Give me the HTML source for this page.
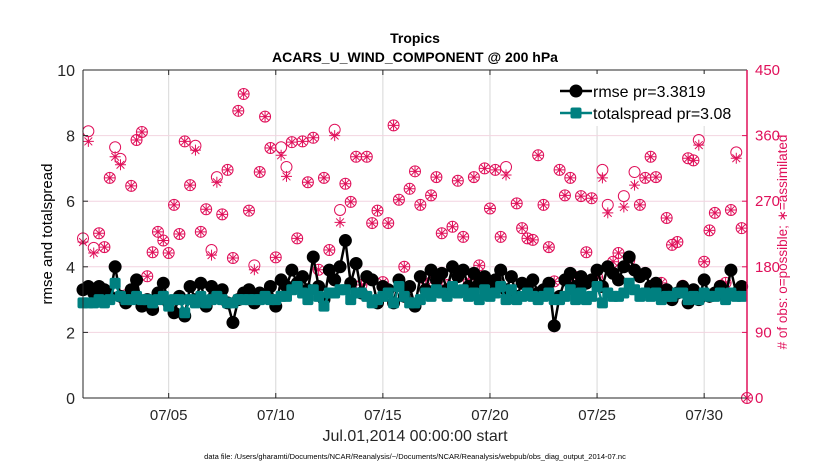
<!DOCTYPE html>
<html><head><meta charset="utf-8"><style>
body{margin:0;background:#fff;}
svg{display:block;font-family:"Liberation Sans",sans-serif;}
</style></head><body>
<svg id="chart" width="830" height="470" xmlns="http://www.w3.org/2000/svg">
<text x="415" y="43" text-anchor="middle" font-size="14" font-weight="bold">Tropics</text>
<text x="415" y="62" text-anchor="middle" font-size="14" font-weight="bold">ACARS_U_WIND_COMPONENT @ 200 hPa</text>
<g id="grid"></g><g id="marks"></g><g id="axes"></g>
<text transform="translate(52,234) rotate(-90)" text-anchor="middle" font-size="15">rmse and totalspread</text>
<text transform="translate(787,242) rotate(-90)" text-anchor="middle" font-size="13.5" fill="#e0105a"># of obs: o=possible; ∗=assimilated</text>
<text x="415" y="441" text-anchor="middle" font-size="16" fill="#262626">Jul.01,2014 00:00:00 start</text>
<text x="415" y="459" text-anchor="middle" font-size="7.5">data file: /Users/gharamti/Documents/NCAR/Reanalysis/~/Documents/NCAR/Reanalysis/webpub/obs_diag_output_2014-07.nc</text>
<g id="legend">
<rect x="555" y="74" width="188" height="52" fill="#fff"/>
<line x1="560" y1="91" x2="592" y2="91" stroke="#000" stroke-width="2.5"/>
<circle cx="576" cy="91" r="6.5" fill="#000"/>
<text x="593" y="97" font-size="16">rmse pr=3.3819</text>
<line x1="560" y1="113" x2="592" y2="113" stroke="#008080" stroke-width="2.5"/>
<rect x="570.5" y="107.5" width="11" height="11" rx="2" fill="#008080"/>
<text x="593" y="119" font-size="16">totalspread pr=3.08</text>
</g>
</svg>
<script>
const xTickLabels = ["07/05","07/10","07/15","07/20","07/25","07/30"];
const xTickDays = [4,9,14,19,24,29];
const yTicks = [0,2,4,6,8,10];
const rTicks = [0,90,180,270,360,450];
const rmse = [3.3,3.4,3.2,3.4,3.3,3.1,4.0,3.1,2.9,3.3,
3.6,2.8,3.0,2.7,3.2,3.5,2.9,2.6,3.1,2.5,
3.4,3.0,3.5,2.8,3.4,3.1,3.3,2.9,2.3,3.0,
3.2,3.3,2.9,3.2,3.1,3.4,2.8,3.6,3.4,3.9,
3.5,3.7,3.3,4.3,3.4,3.0,3.9,3.6,4.0,4.8,
3.5,4.1,3.2,3.7,3.6,2.9,3.4,3.3,2.9,3.6,
3.1,3.4,2.8,3.7,3.3,3.9,3.6,3.8,3.3,4.0,
3.7,3.9,3.4,3.8,3.5,3.7,3.4,3.6,3.9,3.3,
3.7,3.1,3.5,3.4,3.6,3.2,3.3,3.5,2.2,3.1,
3.6,3.8,3.4,3.7,3.5,3.6,3.9,3.4,4.0,3.8,
3.6,4.0,4.3,3.9,3.7,3.8,3.4,3.5,3.1,3.3,
3.0,3.2,3.4,2.9,3.3,3.0,3.6,3.1,3.2,3.4,
3.1,3.9,3.2,3.4,null];
const spread = [2.9,2.9,2.9,3.0,2.9,3.0,3.5,3.1,3.0,3.0,
3.1,3.0,3.0,2.9,3.0,3.1,2.8,3.0,3.0,2.6,
3.0,2.9,3.1,2.9,3.0,3.1,3.0,2.9,2.9,3.0,
3.0,3.0,3.0,3.0,3.1,3.0,3.0,3.1,3.1,3.3,
3.4,3.2,3.0,3.3,3.1,2.8,3.2,3.2,3.3,3.3,
3.0,3.2,3.2,3.1,2.9,3.0,3.1,3.2,2.9,3.4,
3.1,2.9,2.9,3.0,3.2,3.1,3.3,3.2,3.1,3.4,
3.2,3.3,3.1,3.2,3.0,3.3,3.1,3.2,3.4,3.0,
3.3,3.0,3.1,3.2,3.1,3.0,3.1,3.2,3.0,3.0,
3.1,3.3,3.0,3.2,3.0,3.1,3.4,2.9,3.2,3.1,
3.1,3.2,3.5,3.3,3.1,3.2,3.1,3.2,3.0,3.1,
3.1,3.2,3.2,3.0,3.1,3.0,3.2,3.1,3.1,3.2,
3.0,3.2,3.1,3.1,null];
const possible = [219,366,206,226,207,302,344,328,141,291,354,365,167,200,228,216,199,265,225,352,
292,346,228,259,203,303,252,313,192,394,417,257,182,310,386,343,193,344,317,351,
219,352,296,357,176,302,203,368,258,294,269,331,155,331,240,257,159,240,374,272,
180,287,311,265,162,278,303,226,155,235,298,221,162,303,182,315,260,313,221,317,
137,267,233,219,217,333,265,207,160,313,278,302,166,277,200,274,166,313,265,187,
199,277,189,310,265,302,331,303,158,247,210,214,154,329,326,354,187,230,254,154,
158,258,337,233,0];
const assimilated = [214,352,199,226,207,302,331,320,141,291,354,365,167,200,228,216,199,265,225,352,
292,340,228,259,196,296,252,313,192,394,417,257,176,310,386,343,193,333,304,351,
219,352,296,357,176,302,203,360,241,294,269,331,155,331,240,257,159,240,374,272,
180,287,311,265,162,278,303,226,155,235,298,221,162,303,182,315,260,313,221,306,
137,267,233,219,217,333,265,207,160,313,278,302,166,277,200,274,166,302,254,187,
199,262,189,292,265,302,331,303,158,247,210,214,154,329,326,347,187,230,254,154,
158,258,329,233,0];

const NS="http://www.w3.org/2000/svg";
const L=83,R=747,T=70,B=398,DAYS=31,STEP=0.25;
const xs=d=>L+(d/DAYS)*(R-L);
const yl=v=>B-(v/10)*(B-T);
const yr=v=>B-(v/450)*(B-T);
function mk(tag,attrs,parent){const e=document.createElementNS(NS,tag);for(const k in attrs)e.setAttribute(k,attrs[k]);parent.appendChild(e);return e;}
const grid=document.getElementById('grid'),marks=document.getElementById('marks'),axes=document.getElementById('axes');
const PINK="#e0105a";
mk('rect',{x:L,y:T,width:R-L,height:B-T,fill:'#fff'},grid);
xTickDays.forEach((d,i)=>{
  const g=mk('line',{x1:xs(d),x2:xs(d),y1:T,y2:B,stroke:'#d8d8d8','stroke-width':1},grid);
  
  
  mk('line',{x1:xs(d),x2:xs(d),y1:B,y2:B-5,stroke:'#262626'},axes);
  mk('line',{x1:xs(d),x2:xs(d),y1:T,y2:T+5,stroke:'#262626'},axes);
  const lb=mk('text',{x:xs(d),y:B+22,'text-anchor':'middle','font-size':15,fill:'#262626'},axes);
  lb.textContent=xTickLabels[i];
  
  
});
yTicks.forEach(v=>{
  if(v>0&&v<10){const g=mk('line',{x1:L,x2:R,y1:yl(v),y2:yl(v),stroke:'#f2d4e0','stroke-width':1},grid);
  
  }
  mk('line',{x1:L,x2:L+5,y1:yl(v),y2:yl(v),stroke:'#262626'},axes);
  const lb=mk('text',{x:L-8,y:yl(v)+6,'text-anchor':'end','font-size':16,fill:'#262626'},axes);
  lb.textContent=v;
  
  
});
rTicks.forEach(v=>{
  mk('line',{x1:R,x2:R-5,y1:yr(v),y2:yr(v),stroke:PINK},axes);
  const lb=mk('text',{x:R+8,y:yr(v)+5,'font-size':15,fill:PINK},axes);
  lb.textContent=v;
  
  
});
mk('line',{x1:L,x2:R,y1:T,y2:T,stroke:'#262626'},axes);
mk('line',{x1:L,x2:R,y1:B,y2:B,stroke:'#262626'},axes);
mk('line',{x1:L,x2:L,y1:T,y2:B,stroke:'#262626'},axes);
mk('line',{x1:R,x2:R,y1:T,y2:B,stroke:PINK,'stroke-width':1.5},axes);

possible.forEach((v,i)=>{
  const c=mk('circle',{cx:xs(i*STEP),cy:yr(v),r:5.5,fill:'none',stroke:PINK,'stroke-width':1},marks);
  
  
});
assimilated.forEach((v,i)=>{
  const x=xs(i*STEP),y=yr(v),s=5.5,d=3.9;
  const p=mk('path',{d:`M${x-s},${y}H${x+s}M${x},${y-s}V${y+s}M${x-d},${y-d}L${x+d},${y+d}M${x-d},${y+d}L${x+d},${y-d}`,stroke:PINK,'stroke-width':1,fill:'none'},marks);
  
  
});
function linePath(arr,fy){let d='';arr.forEach((v,i)=>{if(v==null)return;d+=(d?'L':'M')+xs(i*STEP).toFixed(1)+','+fy(v).toFixed(1);});return d;}
const rl=mk('path',{d:linePath(rmse,yl),stroke:'#000','stroke-width':2.5,fill:'none'},marks);


rmse.forEach((v,i)=>{if(v==null)return;
  const c=mk('circle',{cx:xs(i*STEP),cy:yl(v),r:6.5,fill:'#000'},marks);
  
  
});
const sl=mk('path',{d:linePath(spread,yl),stroke:'#008080','stroke-width':2.5,fill:'none'},marks);


spread.forEach((v,i)=>{if(v==null)return;
  const r=mk('rect',{x:xs(i*STEP)-5.5,y:yl(v)-5.5,width:11,height:11,rx:2,fill:'#008080'},marks);
  
  
});
</script>
</body></html>
